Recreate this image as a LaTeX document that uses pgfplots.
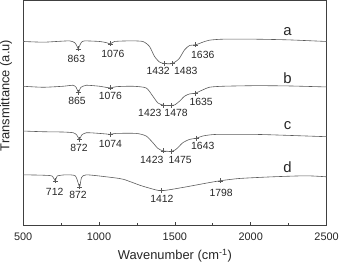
\documentclass[border=0pt]{standalone}
\usepackage{fontspec}
\setmainfont{Liberation Sans}
\usepackage{pgfplots}
\pgfplotsset{compat=1.18}
\definecolor{curve}{HTML}{5A5A5A}
\definecolor{frame}{HTML}{404040}
\begin{document}
\begin{tikzpicture}
\begin{axis}[
  scale only axis, width=305bp, height=226bp,
  xmin=500, xmax=2500, ymin=-228, ymax=-2,
  axis line style={frame, line width=0.8pt},
  xtick={500,1000,1500,2000,2500},
  minor x tick num=1,
  xtick pos=bottom, tick align=inside,
  major tick length=3pt, minor tick length=2.5pt,
  tick style={frame, line width=0.6pt},
  ytick=\empty,
  /pgf/number format/assume math mode=true,
  /pgf/number format/1000 sep={},
  ticklabel style={font=\fontsize{11}{12}\selectfont, text=black!85},
  xticklabel style={yshift=-4pt},
  xlabel={Wavenumber (cm\textsuperscript{-1})},
  xlabel style={font=\fontsize{13}{13}\selectfont, text=black!85, yshift=-2pt},
  ylabel={Transmittance (a.u)},
  ylabel style={font=\fontsize{13}{13}\selectfont, text=black!85, at={(rel axis cs:0,0.577)}, anchor=south, inner sep=0pt, yshift=11pt},
  clip=false,
]
% curve a
\addplot[curve, line width=0.6pt, smooth, tension=0.4] coordinates {
(500,-43.3)(632,-44)(719,-43.3)(807,-42.7)(840,-44.5)(855,-48)(863,-50.7)(871,-48)(885,-44)(906,-42.7)(1004,-43.3)(1050,-44.5)(1076,-45.7)(1103,-43.3)(1202,-42.7)(1289,-43.3)(1333,-48.3)(1366,-58.3)(1399,-64)(1432,-65.5)(1454,-65.7)(1483,-65.5)(1510,-63)(1531,-60)(1564,-51.7)(1597,-47.3)(1636,-46.7)(1684,-44)(1728,-42)(1816,-41)(2035,-41)(2254,-41.7)(2500,-43.3)};
\addplot[only marks, mark=+, mark size=2.5pt, curve, line width=0.5pt] coordinates {
(863,-50.7)(1076,-45.7)(1432,-65.5)(1483,-65.5)(1636,-46.7)};
% curve b
\addplot[curve, line width=0.6pt, smooth, tension=0.4] coordinates {
(500,-88.3)(632,-89.3)(763,-88.3)(829,-87.3)(850,-89.5)(865,-94.3)(880,-89.5)(917,-87.3)(1004,-88.3)(1050,-89.5)(1076,-90)(1114,-88.7)(1224,-88.3)(1311,-90)(1355,-98.3)(1388,-105)(1423,-107.3)(1465,-107.7)(1478,-107.5)(1500,-107)(1531,-103.3)(1564,-98.3)(1597,-96)(1635,-95.3)(1673,-92.7)(1728,-89.3)(1816,-88.3)(2035,-87.7)(2254,-88)(2500,-89)};
\addplot[only marks, mark=+, mark size=2.5pt, curve, line width=0.5pt] coordinates {
(865,-94.3)(1076,-90)(1423,-107.3)(1478,-107.5)(1635,-95.3)};
% curve c
\addplot[curve, line width=0.6pt, smooth, tension=0.4] coordinates {
(500,-133.3)(632,-134)(763,-134.3)(829,-135)(852,-137)(872,-141.7)(885,-137.5)(917,-135)(1004,-135.7)(1050,-136.3)(1074,-136.7)(1110,-135.7)(1246,-135.7)(1311,-138.3)(1355,-145)(1388,-150.7)(1423,-153.3)(1475,-153.7)(1500,-152.5)(1520,-150)(1553,-145)(1597,-141.7)(1643,-140.5)(1684,-138.3)(1772,-136.7)(2035,-136.7)(2254,-137.7)(2500,-139)};
\addplot[only marks, mark=+, mark size=2.5pt, curve, line width=0.5pt] coordinates {
(872,-141.7)(1074,-136.7)(1423,-153.3)(1475,-153.7)(1643,-140.5)};
% curve d
\addplot[curve, line width=0.6pt, smooth, tension=0.4] coordinates {
(500,-177.3)(632,-177.7)(690,-178.5)(712,-183.3)(725,-178.5)(785,-177.3)(845,-178.5)(872,-189.3)(885,-180)(917,-177.3)(1048,-179.3)(1158,-181.7)(1268,-187.7)(1333,-190.7)(1412,-193.3)(1553,-190)(1706,-185.7)(1798,-183.3)(1925,-181)(2145,-179.3)(2364,-178.3)(2500,-179.3)};
\addplot[only marks, mark=+, mark size=2.5pt, curve, line width=0.5pt] coordinates {
(712,-183.3)(872,-189.3)(1412,-193.3)(1798,-183.3)};
% peak labels
\tikzset{pk/.style={font=\fontsize{10.5}{10.5}\selectfont, text=black!85, inner sep=0pt}}
\node[pk] at (axis cs:851,-60.7) {863};
\node[pk] at (axis cs:1092,-56) {1076};
\node[pk] at (axis cs:1390,-73.3) {1432};
\node[pk] at (axis cs:1572,-73.3) {1483};
\node[pk] at (axis cs:1684,-56.7) {1636};
\node[pk] at (axis cs:855,-102.7) {865};
\node[pk] at (axis cs:1075,-97.7) {1076};
\node[pk] at (axis cs:1335,-115) {1423};
\node[pk] at (axis cs:1508,-115) {1478};
\node[pk] at (axis cs:1673,-104) {1635};
\node[pk] at (axis cs:868,-150.7) {872};
\node[pk] at (axis cs:1075,-146.7) {1074};
\node[pk] at (axis cs:1348,-162.7) {1423};
\node[pk] at (axis cs:1535,-162.7) {1475};
\node[pk] at (axis cs:1684,-148.3) {1643};
\node[pk] at (axis cs:708,-194) {712};
\node[pk] at (axis cs:862,-197.3) {872};
\node[pk] at (axis cs:1415,-201.7) {1412};
\node[pk] at (axis cs:1805,-195) {1798};
% curve letters
\tikzset{lt/.style={font=\fontsize{15}{15}\selectfont, text=black!85, inner sep=0pt}}
\node[lt] at (axis cs:2243,-33.3) {a};
\node[lt] at (axis cs:2243,-80) {b};
\node[lt] at (axis cs:2243,-128.3) {c};
\node[lt] at (axis cs:2243,-170) {d};
\end{axis}
\end{tikzpicture}
\end{document}
